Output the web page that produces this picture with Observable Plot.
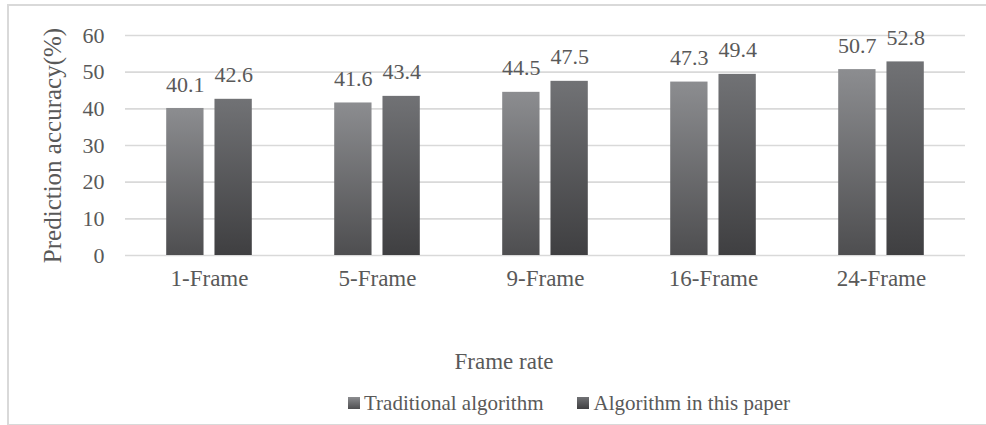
<!DOCTYPE html>
<html>
<head>
<meta charset="utf-8">
<script src="https://cdn.jsdelivr.net/npm/d3@7"></script>
<script src="https://cdn.jsdelivr.net/npm/@observablehq/plot@0.6"></script>
<style>
  html, body { margin: 0; padding: 0; background: #fff; }
  body { position: relative; width: 986px; height: 425px; overflow: hidden; font-family: "Liberation Serif", "Times New Roman", serif; color: #595959; }
  #frame { position: absolute; left: 7px; top: 4px; width: 1000px; height: 418px; border: 2px solid #d9d9d9; border-right: none; box-sizing: content-box; }
  #chart { position: absolute; left: 0; top: 0; }
  #chart svg text { font-family: "Liberation Serif", "Times New Roman", serif; }
  #xtitle { position: absolute; left: 0; width: 1008px; top: 348px; text-align: center; font-size: 23px; line-height: 28px; }
  #legend { position: absolute; left: 348px; top: 390px; display: flex; align-items: center; font-size: 21px; line-height: 26px; white-space: nowrap; }
  .sw { display: inline-block; width: 12px; height: 12px; margin-right: 4px; }
  .item { display: flex; align-items: center; margin-right: 34px; }
</style>
</head>
<body>
<div id="frame"></div>
<div id="chart"></div>
<div id="xtitle">Frame rate</div>
<div id="legend"></div>
<script>
// Frame-rate groups and the prediction accuracy (%) of each method
const categories = ["1-Frame", "5-Frame", "9-Frame", "16-Frame", "24-Frame"];
const series = ["Traditional algorithm", "Algorithm in this paper"];
const traditional = [40.1, 41.6, 44.5, 47.3, 50.7];
const proposed = [42.6, 43.4, 47.5, 49.4, 52.8];
const yTicks = [0, 10, 20, 30, 40, 50, 60];

const serif = "'Liberation Serif', 'Times New Roman', serif";

// vertical gradients for the two bar series (top colour, bottom colour)
const gradients = [
  {id: "grad-trad", top: "#8c8d90", bottom: "#4e4e50"},
  {id: "grad-ours", top: "#717275", bottom: "#3f3f41"}
];

const rows = [];
categories.forEach((c, i) => {
  rows.push({category: c, series: series[0], value: traditional[i]});
  rows.push({category: c, series: series[1], value: proposed[i]});
});

const chart = Plot.plot({
  width: 986,
  height: 300,
  marginLeft: 123,
  marginRight: 19,
  marginTop: 35,
  marginBottom: 45,
  style: {background: "transparent", fontFamily: serif, fontSize: "20px", color: "#595959"},
  fx: {domain: categories, padding: 0, label: null},
  x: {domain: series, paddingInner: 0.2268, paddingOuter: 0.8536, round: false, axis: null},
  y: {domain: [0, 60], label: null},
  color: {domain: series, range: gradients.map(g => `url(#${g.id})`)},
  marks: [
    Plot.gridY(yTicks, {stroke: "#d9d9d9", strokeOpacity: 1, strokeWidth: 1.6}),
    Plot.axisY(yTicks, {
      anchor: "left", tickSize: 0, tickPadding: 21, fontSize: 22, fontFamily: serif,
      label: "Prediction accuracy(%)", labelAnchor: "center", labelArrow: "none", labelOffset: 82
    }),
    Plot.axisFx({anchor: "bottom", tickSize: 0, tickPadding: 14, fontSize: 23, fontFamily: serif, label: null}),
    Plot.barY(rows, {fx: "category", x: "series", y: "value", fill: "series"}),
    Plot.text(rows, {
      fx: "category", x: "series", y: "value", text: d => d.value.toFixed(1),
      dy: -24, fontSize: 22, fontFamily: serif, fill: "#595959"
    })
  ]
});

// gradient definitions referenced by the bar fills
const defs = d3.select(chart).insert("defs", ":first-child");
gradients.forEach(g => {
  const lg = defs.append("linearGradient").attr("id", g.id)
    .attr("x1", 0).attr("y1", 0).attr("x2", 0).attr("y2", 1);
  lg.append("stop").attr("offset", "0%").attr("stop-color", g.top);
  lg.append("stop").attr("offset", "100%").attr("stop-color", g.bottom);
});

// the axis title is drawn a little larger than the tick labels
d3.select(chart).selectAll("[aria-label='y-axis label'] text").attr("font-size", 25);

document.getElementById("chart").appendChild(chart);

// legend row under the axis title
const legend = document.getElementById("legend");
series.forEach((s, i) => {
  const item = document.createElement("div");
  item.className = "item";
  const sw = document.createElement("span");
  sw.className = "sw";
  sw.style.background = `linear-gradient(${gradients[i].top}, ${gradients[i].bottom})`;
  const label = document.createElement("span");
  label.textContent = s;
  item.appendChild(sw);
  item.appendChild(label);
  legend.appendChild(item);
});
</script>
</body>
</html>
